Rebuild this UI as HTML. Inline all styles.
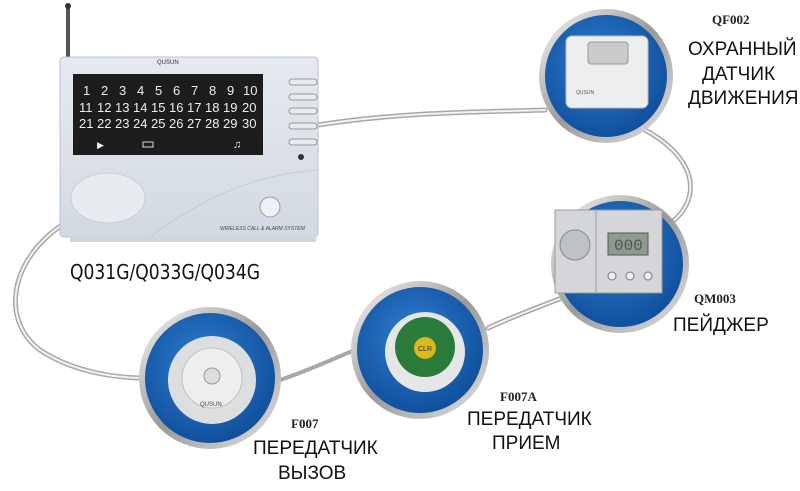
<!DOCTYPE html>
<html><head><meta charset="utf-8"><style>
html,body{margin:0;padding:0;background:#fff;width:800px;height:491px;overflow:hidden}
svg{display:block}
.t{font-family:"Liberation Sans",sans-serif;fill:#111}
.c{font-family:"Liberation Serif",serif;font-weight:bold;fill:#222}
</style></head><body>
<svg width="800" height="491" viewBox="0 0 800 491" xmlns="http://www.w3.org/2000/svg">
<defs>
<radialGradient id="bl" cx="0.45" cy="0.4" r="0.6"><stop offset="0" stop-color="#2f7ed0"/><stop offset="1" stop-color="#0f4e9a"/></radialGradient>
<linearGradient id="ring" x1="0" y1="0" x2="1" y2="1"><stop offset="0" stop-color="#f4f4f4"/><stop offset="0.5" stop-color="#9a9a9a"/><stop offset="1" stop-color="#e0e0e0"/></linearGradient>
<linearGradient id="body" x1="0" y1="0" x2="0" y2="1"><stop offset="0" stop-color="#e6eaf0"/><stop offset="1" stop-color="#d3d9e2"/></linearGradient>
</defs>
<g fill="none" stroke-linecap="round">
<path d="M318 125 C400 112 480 112 545 110" stroke="#a8a8a8" stroke-width="5"/>
<path d="M318 125 C400 112 480 112 545 110" stroke="#f2f2f2" stroke-width="2"/>
<path d="M645 130 C700 160 700 200 672 222" stroke="#a8a8a8" stroke-width="5"/>
<path d="M645 130 C700 160 700 200 672 222" stroke="#f2f2f2" stroke-width="2"/>
<path d="M562 298 C530 310 510 318 488 328" stroke="#a8a8a8" stroke-width="5"/>
<path d="M562 298 C530 310 510 318 488 328" stroke="#f2f2f2" stroke-width="2"/>
<path d="M62 225 C10 260 0 320 40 350 C70 370 110 378 145 378" stroke="#a8a8a8" stroke-width="5"/>
<path d="M62 225 C10 260 0 320 40 350 C70 370 110 378 145 378" stroke="#f2f2f2" stroke-width="2"/>
<path d="M280 380 C310 370 330 360 355 350" stroke="#a8a8a8" stroke-width="4"/>
</g>
<g stroke="url(#ring)" stroke-width="6" fill="url(#bl)">
<circle cx="606" cy="76" r="64"/>
<circle cx="620" cy="264" r="66"/>
<circle cx="420" cy="350" r="66"/>
<circle cx="210" cy="378" r="68"/>
</g>
<rect x="566" y="36" width="82" height="72" rx="6" fill="#eceef0" stroke="#bbb"/>
<rect x="588" y="42" width="40" height="22" rx="3" fill="#c9cbcd" stroke="#999"/>
<text x="576" y="94" font-family="Liberation Sans" font-size="5" fill="#555">QUSUN</text>
<rect x="555" y="210" width="107" height="83" fill="#d4d6d9" stroke="#999"/>
<line x1="596" y1="211" x2="596" y2="292" stroke="#999"/>
<circle cx="575" cy="245" r="15" fill="#bfc2c5" stroke="#888"/>
<rect x="608" y="233" width="40" height="22" fill="#8e9a8e" stroke="#555"/>
<text x="614" y="250" font-family="Liberation Mono" font-size="16" fill="#555">000</text>
<circle cx="612" cy="276" r="4" fill="#eee" stroke="#777"/><circle cx="630" cy="276" r="4" fill="#eee" stroke="#777"/><circle cx="648" cy="276" r="4" fill="#eee" stroke="#777"/>
<circle cx="425" cy="352" r="40" fill="#e4e6e8"/>
<circle cx="425" cy="347" r="30" fill="#2a7a3a"/>
<circle cx="425" cy="348" r="11" fill="#d9b820"/>
<text x="418" y="351" font-family="Liberation Sans" font-size="7" fill="#333">CLR</text>
<circle cx="212" cy="380" r="44" fill="#dcdee0"/>
<circle cx="212" cy="378" r="30" fill="#eceeef" stroke="#c0c0c0"/>
<circle cx="212" cy="376" r="8" fill="#ddd" stroke="#999"/>
<text x="200" y="406" font-family="Liberation Sans" font-size="6" fill="#444">QUSUN</text>
<rect x="66" y="5" width="4" height="55" fill="#555"/>
<circle cx="68" cy="6" r="3" fill="#333"/>
<rect x="60" y="57" width="258" height="180" rx="4" fill="url(#body)" stroke="#bcc3cc"/>
<path d="M150 237 C200 200 250 175 318 170" fill="none" stroke="#c5ccd6"/>
<rect x="70" y="236" width="246" height="6" fill="#cfd5dd"/>
<text x="157" y="64" font-family="Liberation Sans" font-size="6" fill="#333">QUSUN</text>
<rect x="73" y="74" width="190" height="81" fill="#1c1c1c"/>
<g font-family="Liberation Sans" font-size="13" fill="#eee">
<text x="83" y="95">1</text><text x="101" y="95">2</text><text x="119" y="95">3</text><text x="137" y="95">4</text><text x="155" y="95">5</text><text x="173" y="95">6</text><text x="191" y="95">7</text><text x="209" y="95">8</text><text x="227" y="95">9</text><text x="243" y="95">10</text>
<text x="79" y="112">11</text><text x="97" y="112">12</text><text x="115" y="112">13</text><text x="133" y="112">14</text><text x="151" y="112">15</text><text x="169" y="112">16</text><text x="187" y="112">17</text><text x="205" y="112">18</text><text x="223" y="112">19</text><text x="242" y="112">20</text>
<text x="79" y="128">21</text><text x="97" y="128">22</text><text x="115" y="128">23</text><text x="133" y="128">24</text><text x="151" y="128">25</text><text x="169" y="128">26</text><text x="187" y="128">27</text><text x="205" y="128">28</text><text x="223" y="128">29</text><text x="242" y="128">30</text>
<text x="233" y="148" font-size="11">♫</text>
<text x="97" y="148" font-size="9">▶</text>
</g>
<rect x="143" y="142" width="10" height="5" fill="none" stroke="#ddd"/>
<g fill="#e8ecf1" stroke="#999"><rect x="289" y="79" width="28" height="6" rx="3"/><rect x="289" y="94" width="28" height="6" rx="3"/><rect x="289" y="108" width="28" height="6" rx="3"/><rect x="289" y="123" width="28" height="6" rx="3"/><rect x="289" y="139" width="28" height="6" rx="3"/></g>
<circle cx="301" cy="157" r="3" fill="#333"/>
<ellipse cx="108" cy="198" rx="37" ry="25" fill="#e8ecf1" stroke="#c8ced6"/>
<circle cx="270" cy="207" r="10" fill="#eef1f4" stroke="#999"/>
<text x="220" y="230" font-family="Liberation Sans" font-size="5" font-style="italic" fill="#444">WIRELESS CALL &amp; ALARM SYSTEM</text>
<text x="70" y="279" class="t" font-size="20" style="font-family:'DejaVu Sans',sans-serif" textLength="190" lengthAdjust="spacingAndGlyphs">Q031G/Q033G/Q034G</text>
<text x="712" y="24" class="c" font-size="13">QF002</text>
<text x="688" y="55" class="t" font-size="19">ОХРАННЫЙ</text>
<text x="702" y="80" class="t" font-size="19">ДАТЧИК</text>
<text x="688" y="104" class="t" font-size="19">ДВИЖЕНИЯ</text>
<text x="694" y="303" class="c" font-size="13">QM003</text>
<text x="673" y="331" class="t" font-size="19">ПЕЙДЖЕР</text>
<text x="500" y="401" class="c" font-size="13">F007A</text>
<text x="467" y="425" class="t" font-size="19">ПЕРЕДАТЧИК</text>
<text x="492" y="449" class="t" font-size="19">ПРИЕМ</text>
<text x="291" y="428" class="c" font-size="13">F007</text>
<text x="253" y="454" class="t" font-size="19">ПЕРЕДАТЧИК</text>
<text x="278" y="479" class="t" font-size="19">ВЫЗОВ</text>
</svg>
</body></html>
